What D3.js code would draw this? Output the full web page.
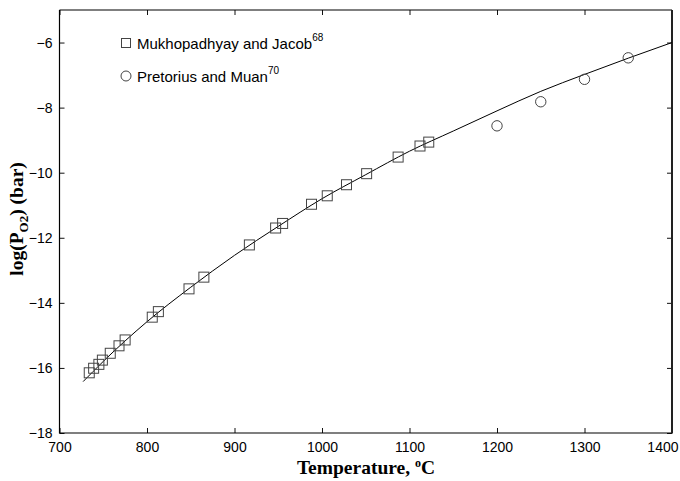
<!DOCTYPE html>
<html>
<head>
<meta charset="utf-8">
<script src="https://cdn.jsdelivr.net/npm/d3@7"></script>
<style>
  html, body { margin: 0; padding: 0; background: #fff; }
  svg { display: block; }
</style>
</head>
<body>
<svg id="chart" width="680" height="481"></svg>
<script>
// Mukhopadhyay and Jacob data (squares)
const mjTemp = [734, 739, 745, 749, 758, 768, 775, 806, 813, 848, 865, 917, 947, 955, 988, 1006, 1028, 1051, 1087, 1112, 1122];
const mjLogP = [-16.15, -16.01, -15.89, -15.76, -15.55, -15.32, -15.14, -14.44, -14.27, -13.57, -13.21, -12.22, -11.70, -11.56, -10.97, -10.71, -10.37, -10.03, -9.52, -9.18, -9.06];

// Pretorius and Muan data (circles)
const pmTemp = [1200, 1250, 1300, 1350];
const pmLogP = [-8.56, -7.82, -7.13, -6.47];

// Calculated curve
const fitTemp = [727, 750, 800, 850, 900, 950, 1000, 1050, 1100, 1150, 1200, 1250, 1300, 1350, 1400];
const fitLogP = [-16.42, -15.80, -14.58, -13.52, -12.54, -11.65, -10.80, -10.06, -9.34, -8.72, -8.10, -7.50, -6.98, -6.48, -6.00];

// Axis ticks
const xTicks = [700, 800, 900, 1000, 1100, 1200, 1300, 1400];
const yTicks = [-18, -16, -14, -12, -10, -8, -6];

const svg = d3.select("#chart");
const m = { left: 59.5, right: 672, top: 10, bottom: 433 };

const x = d3.scaleLinear().domain([700, 1400]).range([m.left, m.right]);
const y = d3.scaleLinear().domain([-18, -5]).range([m.bottom, m.top]);

const labelFont = "Arial, 'Liberation Sans', Helvetica, sans-serif";
const titleFont = "'Times New Roman', 'Liberation Serif', Times, serif";
const fmt = d3.format("d");

// Axes with inward ticks on all four sides
const tickLen = 5;
const gB = svg.append("g").attr("transform", `translate(0,${m.bottom})`)
  .call(d3.axisBottom(x).tickValues(xTicks).tickFormat(fmt).tickSizeInner(-tickLen).tickSizeOuter(0).tickPadding(9));
const gT = svg.append("g").attr("transform", `translate(0,${m.top})`)
  .call(d3.axisTop(x).tickValues(xTicks).tickSizeInner(-tickLen).tickSizeOuter(0).tickFormat(""));
const gL = svg.append("g").attr("transform", `translate(${m.left},0)`)
  .call(d3.axisLeft(y).tickValues(yTicks).tickFormat(fmt).tickSizeInner(-tickLen).tickSizeOuter(0).tickPadding(7));
const gR = svg.append("g").attr("transform", `translate(${m.right},0)`)
  .call(d3.axisRight(y).tickValues(yTicks).tickSizeInner(-tickLen).tickSizeOuter(0).tickFormat(""));

[gB, gT, gL, gR].forEach(g => {
  g.select(".domain").remove();
  g.selectAll(".tick line").attr("stroke", "#111").attr("stroke-width", 1);
  g.selectAll(".tick text").attr("fill", "#000").style("font-family", labelFont).style("font-size", "14px");
});
// Last x label kept inside the canvas
gB.selectAll(".tick text").filter(d => d === 1400).attr("text-anchor", "end").attr("x", 6);

// Frame
svg.append("path")
  .attr("d", `M${m.left},${m.top}H${m.right}M${m.left},${m.top}V${m.bottom}H${m.right}`)
  .attr("fill", "none").attr("stroke", "#000").attr("stroke-width", 1.2);
svg.append("line")
  .attr("x1", m.right).attr("x2", m.right).attr("y1", m.top).attr("y2", m.bottom + 0.6)
  .attr("stroke", "#222").attr("stroke-width", 2);

// Fitted curve
const line = d3.line().x((d, i) => x(fitTemp[i])).y(d => y(d)).curve(d3.curveMonotoneX);
svg.append("path")
  .datum(fitLogP)
  .attr("d", line)
  .attr("fill", "none").attr("stroke", "#000").attr("stroke-width", 1);

// Square markers
const sq = 10;
svg.append("g").selectAll("rect")
  .data(mjLogP)
  .join("rect")
  .attr("x", (d, i) => x(mjTemp[i]) - sq / 2)
  .attr("y", d => y(d) - sq / 2)
  .attr("width", sq).attr("height", sq)
  .attr("fill", "none").attr("stroke", "#444").attr("stroke-width", 1);

// Circle markers
svg.append("g").selectAll("circle")
  .data(pmLogP)
  .join("circle")
  .attr("cx", (d, i) => x(pmTemp[i]))
  .attr("cy", d => y(d))
  .attr("r", 5.2)
  .attr("fill", "none").attr("stroke", "#444").attr("stroke-width", 1);

// Legend
const leg = svg.append("g");
leg.append("rect").attr("x", 121.5).attr("y", 38.5).attr("width", 9).attr("height", 9)
  .attr("fill", "none").attr("stroke", "#444").attr("stroke-width", 1);
leg.append("circle").attr("cx", 126).attr("cy", 76).attr("r", 5)
  .attr("fill", "none").attr("stroke", "#444").attr("stroke-width", 1);

const t1 = leg.append("text").attr("x", 137).attr("y", 48.5)
  .style("font-family", labelFont).style("font-size", "15px");
t1.append("tspan").text("Mukhopadhyay and Jacob");
t1.append("tspan").attr("dy", -8).style("font-size", "10px").text("68");

const t2 = leg.append("text").attr("x", 137).attr("y", 81.5)
  .style("font-family", labelFont).style("font-size", "15px");
t2.append("tspan").text("Pretorius and Muan");
t2.append("tspan").attr("dy", -8).style("font-size", "10px").text("70");

// X title
const xt = svg.append("text")
  .attr("x", 366).attr("y", 474)
  .attr("text-anchor", "middle")
  .style("font-family", titleFont).style("font-size", "19.5px").style("font-weight", "bold");
xt.append("tspan").text("Temperature, ");
xt.append("tspan").attr("dy", -7).style("font-size", "12px").text("o");
xt.append("tspan").attr("dy", 7).text("C");

// Y title
const yt = svg.append("text")
  .attr("transform", "translate(23,219) rotate(-90)")
  .attr("text-anchor", "middle")
  .style("font-family", titleFont).style("font-size", "19.5px").style("font-weight", "bold");
yt.append("tspan").text("log(P");
yt.append("tspan").attr("dy", 5).style("font-size", "13px").text("O2");
yt.append("tspan").attr("dy", -5).text(") (bar)");
</script>
</body>
</html>
